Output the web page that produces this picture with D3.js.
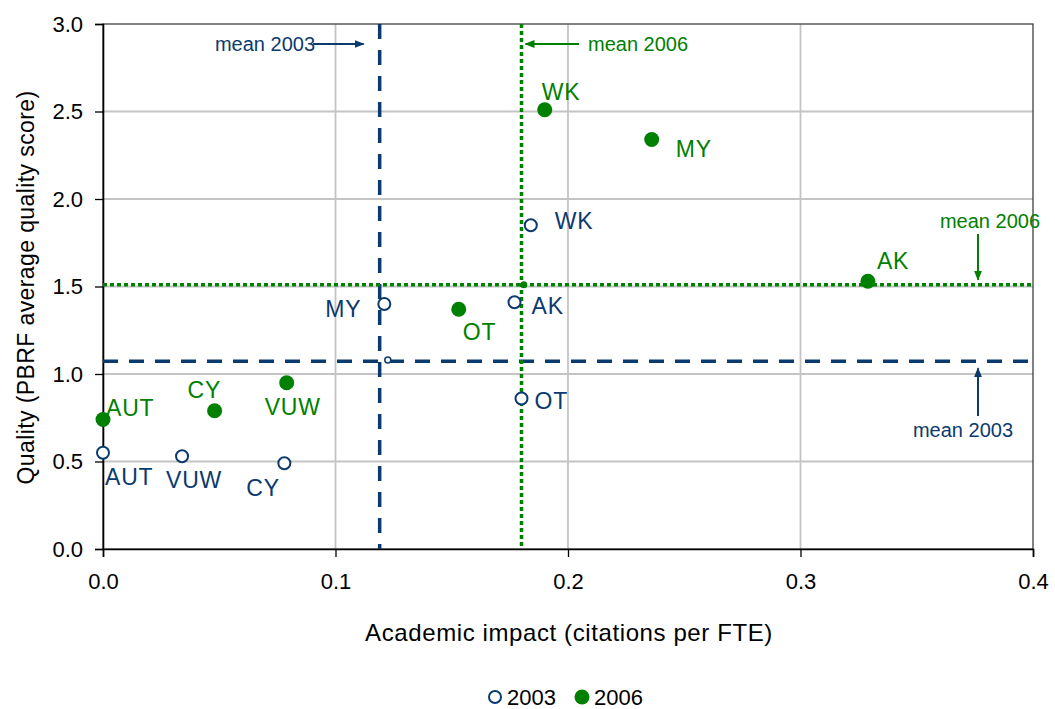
<!DOCTYPE html>
<html>
<head>
<meta charset="utf-8">
<script src="https://cdn.jsdelivr.net/npm/d3@7"></script>
<style>
  html, body { margin: 0; padding: 0; background: #fff; }
  svg { display: block; }
  text { font-family: "Liberation Sans", Arial, sans-serif; }
</style>
</head>
<body>
<svg id="chart" width="1055" height="709"></svg>
<script>
// Institutions and their scores in the two assessment rounds
const institutions = ["AUT", "VUW", "CY", "MY", "WK", "AK", "OT"];
const impact2003  = [0.000, 0.034, 0.078, 0.121, 0.184, 0.177, 0.180];
const quality2003 = [0.55, 0.53, 0.49, 1.40, 1.85, 1.41, 0.86];
const impact2006  = [0.000, 0.079, 0.048, 0.236, 0.190, 0.329, 0.153];
const quality2006 = [0.74, 0.95, 0.79, 2.34, 2.51, 1.53, 1.37];

// Means of each round
const meanImpact  = { y2003: 0.119, y2006: 0.180 };
const meanQuality = { y2003: 1.073, y2006: 1.510 };
const meanPoint2003 = [0.1225, 1.08];
const meanPoint2006 = [0.181, 1.51];

const xTicks = [0.0, 0.1, 0.2, 0.3, 0.4];
const yTicks = [0.0, 0.5, 1.0, 1.5, 2.0, 2.5, 3.0];
const legendYears = ["2003", "2006"];

// Label placement (pixel offsets from each marker)
const labelOffset2003 = {
  AUT: [2, 32, "start"], VUW: [-16, 32, "start"], CY: [-38, 33, "start"],
  MY: [-23, 13, "end"], WK: [24, 4, "start"], AK: [17, 12, "start"], OT: [13, 10, "start"]
};
const labelOffset2006 = {
  AUT: [3, -4, "start"], VUW: [-22, 32, "start"], CY: [-27, -13, "start"],
  MY: [24, 17, "start"], WK: [-3, -10, "start"], AK: [9, -12, "start"], OT: [4, 31, "start"]
};

const navy = "#0b3a6e";
const green = "#008000";

const svg = d3.select("#chart");
const plotLeft = 103, plotRight = 1033, plotTop = 24, plotBottom = 549;

const x = d3.scaleLinear().domain([0, 0.4]).range([plotLeft, plotRight]);
const y = d3.scaleLinear().domain([0, 3]).range([plotBottom, plotTop]);

// arrow heads
const defs = svg.append("defs");
[["arrNavy", navy], ["arrGreen", green]].forEach(([id, c]) => {
  defs.append("marker")
    .attr("id", id).attr("viewBox", "0 0 10 10")
    .attr("refX", 9).attr("refY", 5)
    .attr("markerWidth", 5).attr("markerHeight", 5)
    .attr("orient", "auto")
    .append("path").attr("d", "M0,1 L10,5 L0,9 Z").attr("fill", c);
});

// gridlines
svg.append("g").selectAll("line").data(xTicks.slice(1, -1)).join("line")
  .attr("x1", d => x(d)).attr("x2", d => x(d))
  .attr("y1", plotTop).attr("y2", plotBottom)
  .attr("stroke", "#c4c4c4").attr("stroke-width", 1.8);
svg.append("g").selectAll("line").data(yTicks.slice(1, -1)).join("line")
  .attr("y1", d => y(d)).attr("y2", d => y(d))
  .attr("x1", plotLeft).attr("x2", plotRight)
  .attr("stroke", "#c4c4c4").attr("stroke-width", 1.8);

// plot frame
svg.append("rect")
  .attr("x", plotLeft).attr("y", plotTop)
  .attr("width", plotRight - plotLeft).attr("height", plotBottom - plotTop)
  .attr("fill", "none").attr("stroke", "#404040").attr("stroke-width", 1.3);

// axes
const xAxis = svg.append("g").attr("transform", `translate(0,${plotBottom})`)
  .call(d3.axisBottom(x).tickValues(xTicks).tickFormat(d3.format(".1f")).tickSize(8).tickPadding(16));
const yAxis = svg.append("g").attr("transform", `translate(${plotLeft},0)`)
  .call(d3.axisLeft(y).tickValues(yTicks).tickFormat(d3.format(".1f")).tickSize(8).tickPadding(12));
[xAxis, yAxis].forEach(g => {
  g.select(".domain").attr("stroke", "#000").attr("stroke-width", 1.6);
  g.selectAll(".tick line").attr("stroke", "#000").attr("stroke-width", 1.3);
  g.selectAll(".tick text").attr("fill", "#000")
    .style("font-family", '"Liberation Sans", Arial, sans-serif').style("font-size", "22px");
});

// axis titles
svg.append("text")
  .attr("x", 569).attr("y", 641)
  .attr("text-anchor", "middle").attr("font-size", 24).attr("letter-spacing", 0.6)
  .attr("fill", "#000")
  .text("Academic impact (citations per FTE)");
svg.append("text")
  .attr("transform", `translate(34,${(plotTop + plotBottom) / 2 + 1}) rotate(-90)`)
  .attr("text-anchor", "middle").attr("font-size", 23).attr("letter-spacing", 0.4)
  .attr("fill", "#000")
  .text("Quality (PBRF average quality score)");

// mean lines
svg.append("line")
  .attr("x1", x(meanImpact.y2003)).attr("x2", x(meanImpact.y2003))
  .attr("y1", plotTop).attr("y2", plotBottom)
  .attr("stroke", navy).attr("stroke-width", 3.5).attr("stroke-dasharray", "15,11");
svg.append("line")
  .attr("x1", plotLeft).attr("x2", plotRight)
  .attr("y1", y(meanQuality.y2003)).attr("y2", y(meanQuality.y2003))
  .attr("stroke", navy).attr("stroke-width", 3.5).attr("stroke-dasharray", "15,11");
svg.append("line")
  .attr("x1", x(meanImpact.y2006)).attr("x2", x(meanImpact.y2006))
  .attr("y1", plotTop).attr("y2", plotBottom)
  .attr("stroke", green).attr("stroke-width", 3.5).attr("stroke-dasharray", "4,3");
svg.append("line")
  .attr("x1", plotLeft).attr("x2", plotRight)
  .attr("y1", y(meanQuality.y2006)).attr("y2", y(meanQuality.y2006))
  .attr("stroke", green).attr("stroke-width", 3.5).attr("stroke-dasharray", "4,3");

// mean markers
svg.append("circle")
  .attr("cx", x(meanPoint2003[0])).attr("cy", y(meanPoint2003[1])).attr("r", 3)
  .attr("fill", "#fff").attr("stroke", navy).attr("stroke-width", 1.5);
svg.append("circle")
  .attr("cx", x(meanPoint2006[0])).attr("cy", y(meanPoint2006[1])).attr("r", 3.5)
  .attr("fill", green);

// annotations for the mean lines
function annotate(text, color, marker, tx, ty, anchor, x1, y1, x2, y2) {
  svg.append("line")
    .attr("x1", x1).attr("y1", y1).attr("x2", x2).attr("y2", y2)
    .attr("stroke", color).attr("stroke-width", 2)
    .attr("marker-end", `url(#${marker})`);
  svg.append("text")
    .attr("x", tx).attr("y", ty).attr("text-anchor", anchor)
    .attr("font-size", 20).attr("fill", color).text(text);
}
annotate("mean 2003", navy, "arrNavy", 315, 51, "end", 313, 44, x(meanImpact.y2003) - 16, 44);
annotate("mean 2006", green, "arrGreen", 588, 51, "start", 579, 44, x(meanImpact.y2006) + 4, 44);
annotate("mean 2006", green, "arrGreen", 990, 228, "middle", 978, 234, 978, y(meanQuality.y2006) - 5);
annotate("mean 2003", navy, "arrNavy", 963, 437, "middle", 978, 416, 978, y(meanQuality.y2003) + 7);

// data points
const data2003 = institutions.map((n, i) => ({ n, x: impact2003[i], y: quality2003[i] }));
const data2006 = institutions.map((n, i) => ({ n, x: impact2006[i], y: quality2006[i] }));

svg.append("g").selectAll("circle").data(data2003).join("circle")
  .attr("cx", d => x(d.x)).attr("cy", d => y(d.y)).attr("r", 6)
  .attr("fill", "#fff").attr("stroke", navy).attr("stroke-width", 2);
svg.append("g").selectAll("circle").data(data2006).join("circle")
  .attr("cx", d => x(d.x)).attr("cy", d => y(d.y)).attr("r", 7.5)
  .attr("fill", green);

svg.append("g").selectAll("text").data(data2003).join("text")
  .attr("x", d => x(d.x) + labelOffset2003[d.n][0])
  .attr("y", d => y(d.y) + labelOffset2003[d.n][1])
  .attr("text-anchor", d => labelOffset2003[d.n][2])
  .attr("font-size", 23).attr("letter-spacing", 0.8).attr("fill", navy).text(d => d.n);
svg.append("g").selectAll("text").data(data2006).join("text")
  .attr("x", d => x(d.x) + labelOffset2006[d.n][0])
  .attr("y", d => y(d.y) + labelOffset2006[d.n][1])
  .attr("text-anchor", d => labelOffset2006[d.n][2])
  .attr("font-size", 23).attr("letter-spacing", 0.8).attr("fill", green).text(d => d.n);

// legend
const legend = svg.append("g");
legend.append("circle").attr("cx", 495).attr("cy", 697).attr("r", 6)
  .attr("fill", "#fff").attr("stroke", navy).attr("stroke-width", 2);
legend.append("text").attr("x", 507).attr("y", 705).attr("font-size", 22).attr("fill", "#000").text(legendYears[0]);
legend.append("circle").attr("cx", 582).attr("cy", 697).attr("r", 7.5).attr("fill", green);
legend.append("text").attr("x", 594).attr("y", 705).attr("font-size", 22).attr("fill", "#000").text(legendYears[1]);
</script>
</body>
</html>
